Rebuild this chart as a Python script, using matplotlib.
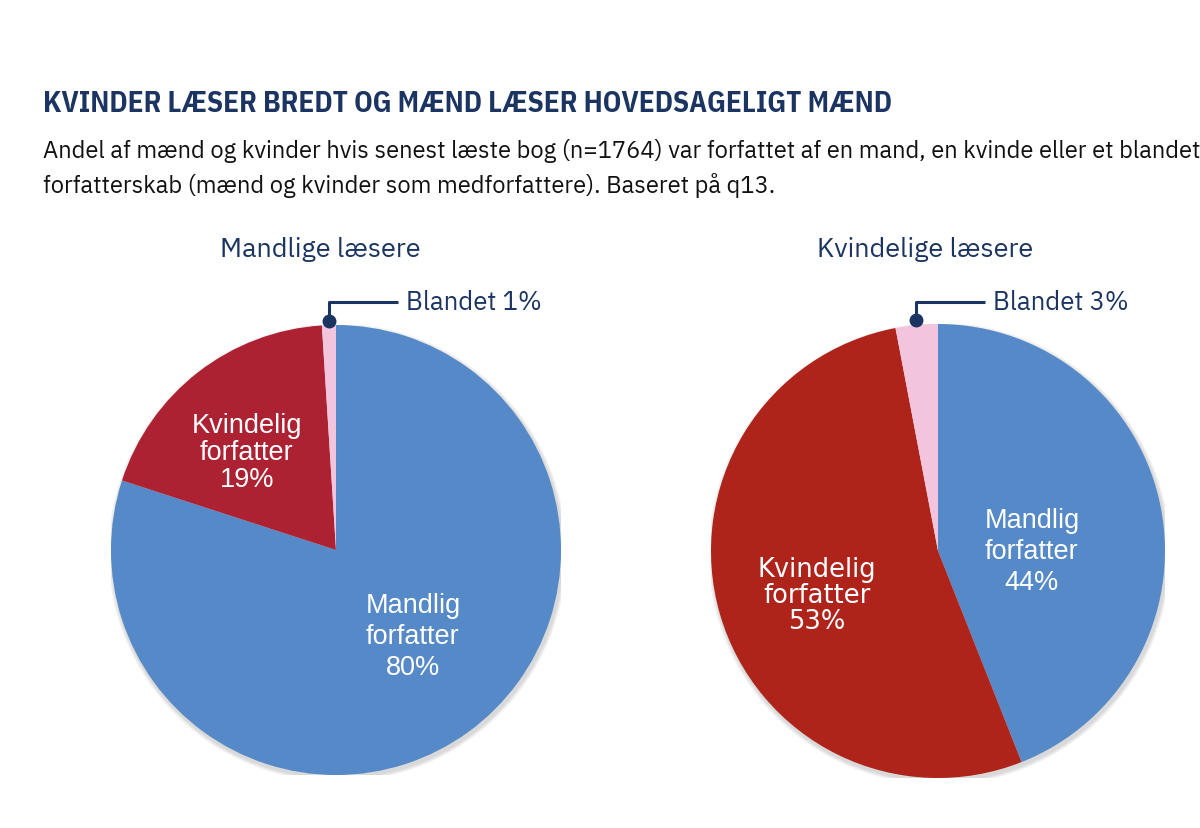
import matplotlib
matplotlib.use('Agg')
import numpy as np
import matplotlib.pyplot as plt

# data
categories = ["Mandlig forfatter", "Kvindelig forfatter", "Blandet"]
mandlige = [80, 19, 1]
kvindelige = [44, 53, 3]
pie_titles = ["Mandlige læsere", "Kvindelige læsere"]

title = "KVINDER LÆSER BREDT OG MÆND LÆSER HOVEDSAGELIGT MÆND"
subtitle1 = "Andel af mænd og kvinder hvis senest læste bog (n=1764) var forfattet af en mand, en kvinde eller et blandet"
subtitle2 = "forfatterskab (mænd og kvinder som medforfattere). Baseret på q13."

navy = '#1B3461'
blue = '#5589C7'
pink = '#F3C5DD'
reds = ['#AD2233', '#AE231A']

plex = ['IBM Plex Sans', 'Roboto', 'DejaVu Sans']
plex_cond = ['IBM Plex Sans Condensed', 'Roboto Condensed', 'DejaVu Sans']
arial = ['Liberation Sans', 'DejaVu Sans']
verdana = ['DejaVu Sans']

fig = plt.figure(figsize=(12, 8.29), dpi=100)

fig.text(43/1200, 1 - 104/829, title, family=plex_cond, weight='bold',
         fontsize=21, color=navy, va='center', ha='left')
fig.text(43/1200, 1 - 151/829, subtitle1, family=plex, fontsize=17.1,
         color='#111111', va='center', ha='left')
fig.text(43/1200, 1 - 186/829, subtitle2, family=plex, fontsize=17.1,
         color='#111111', va='center', ha='left')

# pie placement in pixels: centre x, centre y, radius
boxes = [(336, 551, 225), (938, 552, 227)]
# label offsets from pie centre (in radii), font, size, line spacing
label_style = [
    [((0.342, -0.382), arial, 19.5, 1.27), ((-0.396, 0.436), arial, 19.5, 1.05)],
    [((0.414, 0.0), arial, 19.5, 1.27), ((-0.533, -0.194), verdana, 18.5, 1.0)],
]

for i, vals in enumerate([mandlige, kvindelige]):
    cx, cy, r = boxes[i]
    ax = fig.add_axes([(cx - r)/1200, (829 - cy - r)/829, 2*r/1200, 2*r/829])

    # soft shadow
    for k in range(3):
        sh = plt.Circle((0.006, -0.012), 1.0 + 0.006*(k+1), color='#000000',
                        alpha=0.05, lw=0, zorder=0)
        ax.add_patch(sh)

    wedges, _ = ax.pie(vals, colors=[blue, reds[i], pink], startangle=90,
                       counterclock=False, radius=1.0,
                       wedgeprops=dict(linewidth=0, zorder=1))
    ax.set_xlim(-1, 1)
    ax.set_ylim(-1, 1)
    ax.axis('off')

    # inner labels
    for j in range(2):
        (lx, ly), fam, fs, ls = label_style[i][j]
        name = categories[j].split(' ')
        ax.text(lx, ly, "%s\n%s\n%d%%" % (name[0], name[1], vals[j]),
                ha='center', va='center', color='white', fontsize=fs,
                family=fam, linespacing=ls, zorder=3)

    # callout for Blandet
    w = wedges[2]
    ang = np.deg2rad((w.theta1 + w.theta2) / 2)
    dx, dy = 1.02*np.cos(ang), 1.02*np.sin(ang)
    ytop = (cy - 303) / r
    xend = dx + 69 / r
    ax.plot([dx, dx, xend], [dy, ytop, ytop], color=navy, lw=2.2,
            clip_on=False, zorder=4, solid_capstyle='butt')
    ax.plot([dx], [dy], 'o', color=navy, ms=9, clip_on=False, zorder=5)
    ax.text(xend + 8/r, ytop, "%s %d%%" % (categories[2], vals[2]),
            ha='left', va='center', color=navy, fontsize=18.5, family=plex,
            clip_on=False)

    # pie title
    tx = [320, 925][i]
    ax.text((tx - cx)/r, (cy - 250)/r, pie_titles[i], ha='center',
            va='center', color=navy, fontsize=19.5, family=plex, clip_on=False)

fig.savefig('out.png', dpi=100)
